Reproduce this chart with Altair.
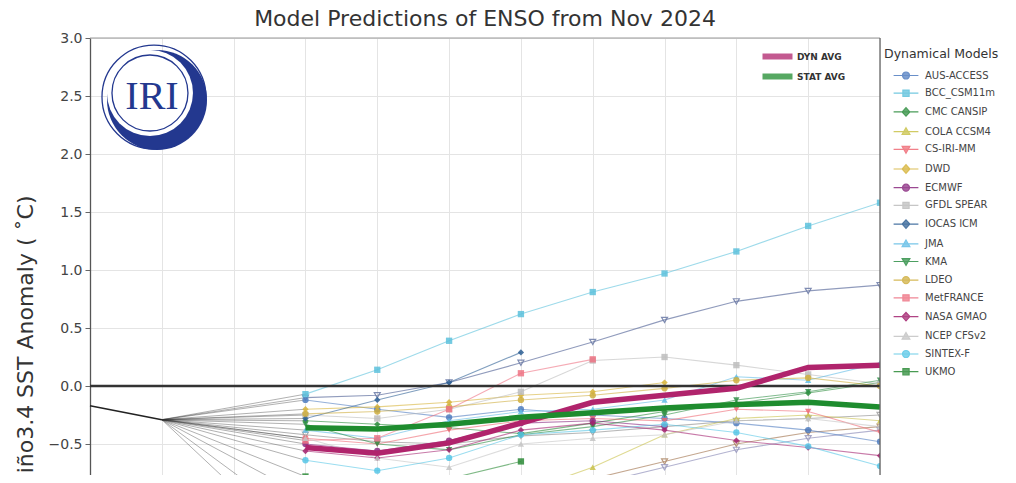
import altair as alt
import pandas as pd

# ---------------- data ----------------
leads = [3, 4, 5, 6, 7, 8, 9, 10, 11]
obs_x = [0, 1]
obs_y = [-0.17, -0.29]

models = ["AUS-ACCESS", "BCC_CSM11m", "CMC CANSIP", "COLA CCSM4", "CS-IRI-MM", "DWD",
          "ECMWF", "GFDL SPEAR", "IOCAS ICM", "JMA", "KMA", "LDEO", "MetFRANCE",
          "NASA GMAO", "NCEP CFSv2", "SINTEX-F", "UKMO"]
model_colors = ["#4f7cc0", "#5cc1dc", "#2b8c3c", "#c9c24a", "#ef6a75", "#d7b43a",
                "#8a2a80", "#bdbdbd", "#2d5f94", "#62bde6", "#2f8f46", "#cfae3e",
                "#ee7384", "#a3236f", "#c4c4c4", "#56c6e6", "#2a8a36"]
model_shapes = ["circle", "square", "diamond", "triangle-up", "triangle-down", "diamond",
                "circle", "square", "diamond", "triangle-up", "triangle-down", "circle",
                "square", "diamond", "triangle-up", "circle", "square"]

aus_access = [-0.12, -0.20, -0.27, -0.20, -0.25, -0.28, -0.32, -0.38, -0.48]
bcc_csm11m = [-0.07, 0.14, 0.39, 0.62, 0.81, 0.97, 1.16, 1.38, 1.58]
cmc_cansip = [-0.30, -0.33, -0.36, -0.41, -0.32, -0.22, -0.15, -0.06, 0.03]
cola_ccsm4 = [-0.95, -1.10, -1.05, -0.92, -0.70, -0.42, -0.28, -0.25, -0.30]
cs_iri_mm = [-0.45, -0.50, -0.38, -0.30, -0.28, -0.30, -0.20, -0.22, -0.40]
dwd = [-0.20, -0.18, -0.14, -0.08, -0.05, 0.03, None, None, None]
ecmwf = [-0.50, -0.56, -0.47, -0.32, -0.30, -0.35, None, None, None]
gfdl_spear = [-0.25, -0.28, -0.20, -0.05, 0.22, 0.25, 0.18, 0.10, 0.02]
iocas_icm = [-0.28, -0.12, 0.03, 0.29, None, None, None, None, None]
jma = [-0.38, -0.45, -0.30, -0.22, -0.20, -0.12, 0.08, 0.05, 0.20]
kma = [-0.33, -0.50, -0.55, -0.42, -0.35, -0.25, -0.12, -0.05, 0.05]
ldeo = [-0.24, -0.22, -0.18, -0.12, -0.08, -0.02, 0.05, 0.07, 0.00]
metfrance = [-0.47, -0.45, -0.20, 0.11, 0.23, None, None, None, None]
nasa_gmao = [-0.56, -0.62, -0.55, -0.38, -0.32, -0.38, -0.47, -0.53, -0.60]
ncep_cfsv2 = [-0.45, -0.62, -0.70, -0.50, -0.45, -0.42, -0.30, -0.28, -0.35]
sintex_f = [-0.64, -0.73, -0.62, -0.42, -0.38, -0.33, -0.40, -0.52, -0.69]
ukmo = [-0.78, -0.88, -0.80, -0.65, None, None, None, None, None]
model_values = [aus_access, bcc_csm11m, cmc_cansip, cola_ccsm4, cs_iri_mm, dwd, ecmwf,
                gfdl_spear, iocas_icm, jma, kma, ldeo, metfrance, nasa_gmao, ncep_cfsv2,
                sintex_f, ukmo]

# statistical models (their legend is outside the cropped view)
stat_names = ["STAT-1", "STAT-2", "STAT-3", "STAT-4"]
stat_colors = ["#6b7aa6", "#a0a0a0", "#b08a6a", "#9a9ac0"]
stat_1 = [-0.10, -0.08, 0.03, 0.20, 0.38, 0.57, 0.73, 0.82, 0.87]
stat_2 = [-0.42, -0.48, -0.50, -0.43, -0.40, -0.35, -0.30, -0.28, -0.25]
stat_3 = [-1.20, -1.25, -1.10, -0.95, -0.80, -0.65, -0.50, -0.40, -0.35]
stat_4 = [-1.45, -1.40, -1.20, -1.00, -0.85, -0.70, -0.55, -0.45, -0.38]
stat_values = [stat_1, stat_2, stat_3, stat_4]

avg_names = ["DYN AVG", "STAT AVG"]
avg_colors = ["#b0246c", "#1e8c2e"]
dyn_avg = [-0.53, -0.58, -0.49, -0.32, -0.14, -0.08, -0.02, 0.16, 0.18]
stat_avg = [-0.36, -0.37, -0.33, -0.27, -0.23, -0.19, -0.16, -0.14, -0.18]

logo_navy = "#23388f"

# legend symbols: a line through the marker
marker_paths = {
    "circle": "M0.9,0A0.9,0.9,0,1,1,-0.9,0A0.9,0.9,0,1,1,0.9,0Z",
    "square": "M-0.8,-0.8H0.8V0.8H-0.8Z",
    "diamond": "M0,-1.1L1,0L0,1.1L-1,0Z",
    "triangle-up": "M0,-1L1,0.75H-1Z",
    "triangle-down": "M0,1L1,-0.75H-1Z",
}
legend_paths = ["M-3.2,0H3.2" + marker_paths[s] for s in model_shapes]

# ---------------- tables ----------------
rows = []
for name, col, shp, vals in zip(models, model_colors, model_shapes, model_values):
    for x, v in zip(leads, vals):
        if v is not None:
            rows.append({"model": name, "color": col, "shape": shp, "x": x, "y": v})
model_df = pd.DataFrame(rows)

srows = []
for name, col, vals in zip(stat_names, stat_colors, stat_values):
    for x, v in zip(leads, vals):
        srows.append({"model": name, "color": col, "x": x, "y": v})
stat_df = pd.DataFrame(srows)

frows = []
for name, vals in list(zip(models, model_values)) + list(zip(stat_names, stat_values)):
    frows.append({"model": name, "x": obs_x[-1], "y": obs_y[-1]})
    frows.append({"model": name, "x": leads[0], "y": vals[0]})
fan_df = pd.DataFrame(frows)

arows = []
for name, vals in zip(avg_names, [dyn_avg, stat_avg]):
    for x, v in zip(leads, vals):
        arows.append({"series": name, "x": x, "y": v})
avg_df = pd.DataFrame(arows)

obs_df = pd.DataFrame({"x": obs_x, "y": obs_y})

# ---------------- encodings ----------------
X = alt.X("x:Q", scale=alt.Scale(domain=[0, 11], nice=False, zero=False),
          axis=alt.Axis(values=list(range(12)), labels=False, ticks=False, domain=False,
                        grid=True, gridColor="#e4e4e4", gridWidth=1, title=None))
Y = alt.Y("y:Q", scale=alt.Scale(domain=[-0.767, 3.0], nice=False, zero=False),
          axis=alt.Axis(values=[-0.5, 0, 0.5, 1.0, 1.5, 2.0, 2.5, 3.0], format=".1f",
                        labelFontSize=14, labelColor="#444", labelPadding=3,
                        tickSize=5, tickColor="#666", domainColor="#555", domainWidth=1.3,
                        grid=True, gridColor="#e4e4e4", gridWidth=1,
                        title="Niño3.4 SST Anomaly ( ˚C)", titleFontSize=22,
                        titleFontWeight="normal", titleColor="#333",
                        titleAngle=270, titleAlign="right", titleBaseline="alphabetic",
                        titleX=-58, titleY=157))

fan = alt.Chart(fan_df).mark_line(color="#333", strokeWidth=0.7, opacity=0.55, clip=True).encode(
    x=X, y=Y, detail="model:N")

stat_lines = alt.Chart(stat_df).mark_line(strokeWidth=1.1, opacity=0.75, clip=True).encode(
    x=X, y=Y, detail="model:N", color=alt.Color("color:N", scale=None))
stat_pts = alt.Chart(stat_df).mark_point(shape="triangle-down", size=36, strokeWidth=1.2,
                                         opacity=0.85, clip=True).encode(
    x=X, y=Y, color=alt.Color("color:N", scale=None))

mlines = alt.Chart(model_df).mark_line(strokeWidth=1.1, opacity=0.6, clip=True).encode(
    x=X, y=Y, detail="model:N", color=alt.Color("color:N", scale=None))
mpts = alt.Chart(model_df).mark_point(filled=True, size=40, opacity=0.85, clip=True).encode(
    x=X, y=Y, color=alt.Color("color:N", scale=None), shape=alt.Shape("shape:N", scale=None))

leg_kw = dict(title="Dynamical Models", orient="none", legendX=794, legendY=10,
              titleFontSize=12.5, titleFontWeight="normal", titleColor="#333",
              titlePadding=10, labelFontSize=10, labelColor="#444", symbolSize=60,
              symbolStrokeWidth=1.2, symbolOffset=17, labelOffset=14, rowPadding=5.7,
              padding=0, symbolOpacity=1)
legend_layer = alt.Chart(model_df).transform_filter("datum.x < 0").mark_point(
    filled=True, strokeWidth=1.2, opacity=1).encode(
    x=X, y=Y,
    fill=alt.Fill("model:N", scale=alt.Scale(domain=models, range=model_colors),
                  legend=alt.Legend(**leg_kw)),
    stroke=alt.Stroke("model:N", scale=alt.Scale(domain=models, range=model_colors),
                      legend=alt.Legend(**leg_kw)),
    shape=alt.Shape("model:N", scale=alt.Scale(domain=models, range=legend_paths),
                    legend=alt.Legend(**leg_kw)))

zero = alt.Chart(pd.DataFrame({"y": [0.0]})).mark_rule(color="#333", strokeWidth=2.5).encode(y=Y)
top_border = alt.Chart(pd.DataFrame({"y": [3.0]})).mark_rule(color="#999", strokeWidth=1.2).encode(y=Y)
right_border = alt.Chart(pd.DataFrame({"x": [11]})).mark_rule(color="#666", strokeWidth=1.3).encode(x=X)

obs = alt.Chart(obs_df).mark_line(color="#222", strokeWidth=1.6).encode(x=X, y=Y)

avg = alt.Chart(avg_df).mark_line(strokeWidth=5.5, clip=True).encode(
    x=X, y=Y,
    color=alt.Color("series:N", scale=alt.Scale(domain=avg_names, range=avg_colors),
                    legend=alt.Legend(title=None, orient="none", legendX=672, legendY=13,
                                      symbolType="M-6,0H6", symbolSize=25, symbolStrokeWidth=6,
                                      symbolOpacity=1,
                                      labelFontSize=9, labelFontWeight="bold", labelColor="#333",
                                      symbolOffset=10, labelOffset=14, rowPadding=-5, padding=0)))

# logo
logo_disk = alt.Chart(pd.DataFrame({"x": [0.933], "y": [2.466]})).mark_point(
    filled=True, shape="circle", size=10000, color=logo_navy, opacity=1).encode(x=X, y=Y)
logo_white = alt.Chart(pd.DataFrame({"x": [0.835], "y": [2.526]})).mark_point(
    filled=True, shape="circle", size=7396, color="white", opacity=1).encode(x=X, y=Y)
logo_ring1 = alt.Chart(pd.DataFrame({"x": [0.891], "y": [2.491]})).mark_point(
    filled=False, shape="circle", size=10816, color=logo_navy, strokeWidth=1.3, opacity=1).encode(x=X, y=Y)
logo_ring2 = alt.Chart(pd.DataFrame({"x": [0.835], "y": [2.526]})).mark_point(
    filled=False, shape="circle", size=5776, color=logo_navy, strokeWidth=1.3, opacity=1).encode(x=X, y=Y)
logo_text = alt.Chart(pd.DataFrame({"x": [0.863], "y": [2.49], "t": ["IRI"]})).mark_text(
    font="Liberation Serif", fontSize=40, color=logo_navy, baseline="middle", align="center").encode(
    x=X, y=Y, text="t:N")

chart = alt.layer(
    fan, stat_lines, stat_pts, mlines, mpts, zero, obs, avg, top_border, right_border,
    logo_disk, logo_white, logo_ring1, logo_ring2, logo_text, legend_layer
).properties(
    width=790, height=437,
    title=alt.TitleParams("Model Predictions of ENSO from Nov 2024", fontSize=22,
                          font="DejaVu Sans", fontWeight="normal", color="#333",
                          anchor="middle", offset=0),
    autosize=alt.AutoSizeParams(type="none"),
    padding={"left": 82, "top": 30, "right": 128, "bottom": 0},
).configure(font="DejaVu Sans").configure_view(stroke=None)

chart.save("out.html", embed_options={"renderer": "svg", "actions": False})
